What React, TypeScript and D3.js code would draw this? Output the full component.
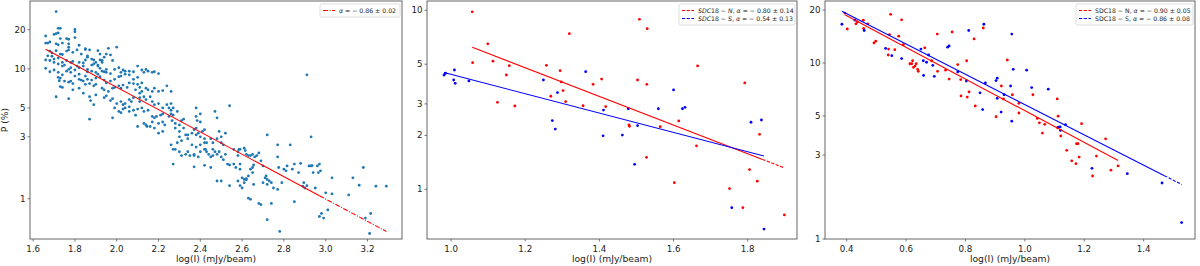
import React, { useEffect } from "react";
import * as d3 from "d3";

type Pt = [number, number];

// log(I) (mJy/beam), P (%) — all sources
const allSources: Pt[] = [
  [1.71, 27.6], [1.72, 20.5], [1.73, 20.5], [1.72, 18.9], [1.80, 20.1], [1.80, 19.3],
  [1.66, 17.9], [1.70, 18.4], [1.71, 18.7],
  [1.73, 17.1], [1.74, 15.8], [1.76, 17.1], [1.77, 16.9], [1.80, 17.4],
  [1.66, 15.8], [1.67, 15.8], [1.68, 16.1], [1.71, 15.6], [1.72, 15.3], [1.77, 15.6], [1.77, 14.7], [1.82, 15.2], [1.85, 14.3],
  [1.68, 13.7], [1.69, 13.3], [1.71, 13.8], [1.73, 13.0], [1.74, 12.9], [1.76, 13.7], [1.77, 14.0], [1.79, 13.4], [1.81, 14.0], [1.83, 13.0], [1.85, 14.1], [1.87, 14.0], [1.86, 12.6],
  [1.67, 12.6], [1.69, 12.5], [1.70, 11.9], [1.72, 12.1], [1.74, 11.2], [1.76, 11.6], [1.78, 11.2], [1.79, 11.4], [1.81, 10.5], [1.82, 11.2], [1.84, 11.1], [1.85, 11.7], [1.86, 12.3], [1.88, 11.9], [1.89, 11.7], [1.90, 11.2],
  [1.66, 11.7], [1.68, 11.6], [1.70, 11.2], [1.72, 10.9], [1.74, 10.5], [1.75, 10.7], [1.77, 9.9], [1.78, 10.2], [1.80, 9.8], [1.82, 10.2], [1.84, 10.5], [1.86, 9.9], [1.88, 10.7], [1.89, 10.9], [1.91, 10.7],
  [1.66, 10.1], [1.68, 9.5], [1.70, 9.8], [1.72, 9.4], [1.73, 8.5], [1.74, 9.0], [1.76, 9.6], [1.78, 9.4], [1.80, 8.8], [1.82, 9.1], [1.83, 8.2], [1.85, 8.8], [1.86, 9.5], [1.88, 9.6], [1.90, 9.4], [1.91, 9.1],
  [1.72, 8.6], [1.725, 8.1], [1.75, 8.05], [1.77, 7.9], [1.78, 8.05], [1.79, 7.7], [1.82, 8.3], [1.84, 8.05], [1.86, 8.3], [1.88, 8.2], [1.90, 8.5],
  [1.73, 7.3], [1.74, 7.2], [1.79, 6.9], [1.82, 7.1], [1.85, 7.6], [1.87, 7.7], [1.89, 7.4], [1.90, 7.6],
  [1.71, 6.1], [1.77, 5.9], [1.84, 6.5], [1.87, 6.1], [1.875, 5.7], [1.89, 5.3], [1.90, 6.3],
  [1.87, 4.1],
  [1.91, 13.8], [1.92, 13.0], [1.92, 11.7], [1.93, 11.2], [1.93, 11.6], [1.94, 12.3], [1.95, 13.0], [1.96, 14.4], [1.97, 12.8], [1.98, 11.6], [2.00, 14.7],
  [1.91, 10.5], [1.92, 10.1], [1.93, 9.6], [1.94, 9.5], [1.95, 9.9], [1.95, 9.4], [1.97, 9.2], [1.99, 9.9], [2.01, 10.2], [2.02, 9.4], [2.03, 9.8], [2.04, 9.6],
  [1.92, 8.7], [1.94, 8.2], [1.95, 7.8], [1.97, 8.05], [1.99, 8.3], [2.01, 8.7], [2.02, 8.8], [2.04, 9.1], [2.06, 9.0], [2.06, 9.6], [2.08, 9.5], [2.08, 8.3], [2.10, 8.6],
  [1.93, 7.1], [1.94, 6.9], [1.96, 6.7], [1.98, 7.1], [1.99, 7.2], [2.01, 7.4], [2.02, 7.1], [2.03, 7.5], [2.05, 7.2], [2.06, 7.8], [2.08, 7.7], [2.09, 6.9], [2.11, 7.2],
  [1.94, 6.0], [1.95, 6.2], [1.97, 5.7], [1.98, 5.9], [2.00, 5.4], [2.02, 5.6], [2.03, 5.3], [2.04, 5.4], [2.06, 5.8], [2.07, 5.6], [2.08, 6.0], [2.11, 6.5], [2.12, 6.7],
  [1.99, 5.0], [2.01, 4.7], [2.03, 4.9], [2.04, 5.0], [2.06, 5.1], [2.08, 4.8], [2.10, 4.9], [2.11, 5.6],
  [1.98, 4.2], [2.02, 4.6], [2.06, 4.7], [2.09, 4.4],
  [2.10, 10.5], [2.12, 9.8], [2.13, 9.4], [2.14, 9.9], [2.15, 9.6], [2.17, 9.4], [2.18, 9.5], [2.20, 9.2],
  [2.10, 7.6], [2.12, 7.8], [2.14, 7.1], [2.15, 6.9], [2.17, 6.7], [2.18, 7.1], [2.20, 6.7], [2.22, 6.8], [2.24, 7.4], [2.26, 6.7],
  [2.11, 6.0], [2.13, 6.1], [2.14, 5.8], [2.16, 6.1], [2.17, 5.6], [2.18, 5.3], [2.20, 5.4], [2.22, 5.0], [2.24, 5.3], [2.26, 5.4], [2.27, 5.0],
  [2.12, 5.0], [2.13, 4.7], [2.15, 4.8], [2.17, 4.3], [2.18, 4.2], [2.19, 4.3], [2.21, 4.4], [2.22, 4.5],
  [2.10, 3.6], [2.13, 3.8], [2.14, 3.7], [2.145, 3.6], [2.16, 3.6], [2.17, 3.9], [2.18, 3.5], [2.20, 3.8], [2.22, 3.9], [2.23, 3.7],
  [2.20, 3.2], [2.22, 3.3],
  [2.25, 4.3], [2.26, 4.5], [2.265, 4.0], [2.27, 4.4], [2.28, 3.8], [2.29, 4.7],
  [2.25, 5.0], [2.26, 4.8],
  [2.28, 3.5], [2.30, 3.7], [2.30, 3.3], [2.32, 3.5], [2.33, 3.1], [2.31, 4.0], [2.32, 4.1],
  [2.26, 2.6], [2.27, 2.4], [2.28, 2.4], [2.29, 2.7], [2.30, 2.3], [2.31, 2.15], [2.33, 2.2], [2.34, 2.3], [2.35, 2.15], [2.37, 2.2],
  [2.27, 1.85], [2.30, 3.0], [2.31, 2.8], [2.34, 3.1], [2.34, 2.9], [2.36, 3.2], [2.37, 3.4], [2.38, 3.1], [2.38, 3.5], [2.39, 3.2], [2.40, 3.0], [2.41, 3.3], [2.42, 3.4],
  [2.38, 5.0], [2.38, 4.3], [2.40, 4.5], [2.385, 4.0], [2.40, 3.9],
  [2.36, 2.6], [2.38, 2.5], [2.40, 2.6], [2.42, 2.7], [2.42, 2.9], [2.43, 2.7], [2.45, 2.9], [2.46, 2.7], [2.48, 2.9], [2.50, 2.7], [2.51, 2.6],
  [2.37, 2.15], [2.39, 2.1], [2.40, 2.3], [2.42, 2.4], [2.425, 2.4], [2.43, 2.3], [2.44, 2.2], [2.45, 2.1], [2.46, 2.4], [2.47, 2.3], [2.48, 2.2],
  [2.37, 1.76], [2.42, 1.81], [2.45, 1.74], [2.46, 2.15], [2.48, 1.37], [2.49, 2.3], [2.50, 2.1], [2.51, 2.0], [2.52, 2.2],
  [2.47, 4.7], [2.48, 4.2], [2.49, 3.3], [2.50, 3.0], [2.52, 3.2], [2.54, 5.2],
  [2.50, 1.37], [2.54, 1.26], [2.53, 1.85], [2.54, 1.82], [2.56, 1.85], [2.57, 1.74],
  [2.56, 2.4], [2.58, 2.3], [2.585, 2.4], [2.59, 2.4], [2.61, 2.45], [2.615, 2.35], [2.62, 2.2], [2.63, 2.15], [2.64, 2.15], [2.65, 2.2],
  [2.58, 2.15], [2.59, 1.85], [2.59, 1.69], [2.60, 1.45], [2.61, 1.41], [2.62, 1.43], [2.63, 1.50], [2.64, 1.69], [2.65, 1.74], [2.655, 1.82],
  [2.58, 1.37], [2.59, 1.26], [2.60, 1.21], [2.61, 1.33], [2.62, 1.40], [2.63, 1.01], [2.64, 0.99], [2.65, 1.59], [2.655, 1.29],
  [2.66, 2.1], [2.67, 2.15], [2.68, 2.25], [2.69, 1.96], [2.70, 1.79],
  [2.72, 3.1], [2.71, 1.45], [2.715, 1.50], [2.72, 1.41], [2.73, 1.37], [2.74, 1.33], [2.75, 1.21], [2.77, 1.18], [2.775, 1.74],
  [2.68, 0.92], [2.69, 0.90], [2.70, 1.33], [2.72, 1.29], [2.74, 0.92], [2.72, 0.69], [2.77, 2.6], [2.77, 2.1],
  [2.78, 0.56], [2.79, 1.33], [2.80, 1.69], [2.81, 1.64], [2.815, 1.79], [2.83, 2.6], [2.84, 1.69], [2.85, 0.95],
  [2.85, 1.85], [2.87, 1.59], [2.88, 1.87], [2.89, 1.25], [2.895, 1.33], [2.90, 1.21], [2.91, 1.26], [2.92, 1.79], [2.93, 1.79], [2.935, 1.80], [2.94, 1.59], [2.95, 1.21], [2.96, 1.79],
  [2.91, 9.0], [2.93, 3.0],
  [2.97, 1.85], [2.965, 1.59], [2.975, 1.64], [2.97, 0.73], [2.98, 0.77], [2.99, 0.71], [3.00, 1.11], [3.01, 0.82], [3.03, 1.45], [3.03, 1.09],
  [3.11, 1.07], [3.13, 1.45], [3.16, 1.27], [3.18, 1.74], [3.19, 0.71], [3.21, 0.54], [3.215, 0.77], [3.24, 1.25], [3.29, 1.25],
];

// SDC18 north / south, middle panel
const midNorth: Pt[] = [
  [1.057, 9.8], [1.099, 6.5], [1.058, 5.1], [1.113, 5.2], [1.157, 4.9], [1.149, 4.35], [1.125, 3.06], [1.172, 2.92],
  [1.257, 4.93], [1.294, 4.6], [1.297, 3.98], [1.302, 3.56], [1.269, 3.31], [1.309, 3.09], [1.319, 7.4], [1.356, 2.93],
  [1.383, 3.86], [1.406, 4.13], [1.417, 2.9], [1.48, 2.29], [1.481, 2.25], [1.503, 4.08], [1.508, 8.9], [1.529, 7.9],
  [1.528, 3.86], [1.527, 1.51], [1.564, 2.24], [1.602, 1.09], [1.614, 2.41], [1.662, 1.75], [1.665, 4.89], [1.751, 1.01],
  [1.787, 0.79], [1.792, 3.93], [1.805, 1.29], [1.826, 1.11], [1.832, 2.03], [1.899, 0.72],
];
const midSouth: Pt[] = [
  [0.981, 4.35], [0.985, 4.45], [1.009, 4.64], [1.007, 4.08], [1.011, 3.91], [1.048, 4.03], [1.249, 4.08], [1.273, 2.42],
  [1.281, 2.17], [1.287, 3.47], [1.363, 4.54], [1.411, 2.77], [1.41, 1.99], [1.462, 2.01], [1.478, 2.82], [1.495, 1.38],
  [1.503, 2.27], [1.559, 2.82], [1.6, 3.59], [1.624, 2.82], [1.631, 2.87], [1.757, 0.79], [1.809, 2.37], [1.837, 2.44],
  [1.844, 0.6],
];

// SDC18 north / south, right panel
const rightNorth: Pt[] = [
  [0.394, 19.2], [0.402, 15.6], [0.431, 16.7], [0.436, 17.1], [0.456, 17.5], [0.457, 15.7], [0.471, 16.7], [0.492, 13.0],
  [0.498, 13.3], [0.54, 11.1], [0.541, 12.0], [0.544, 14.5], [0.548, 18.9], [0.562, 11.9], [0.575, 14.2], [0.585, 17.6],
  [0.591, 12.7], [0.613, 9.9], [0.619, 9.9], [0.622, 10.3], [0.625, 9.45], [0.63, 9.6], [0.634, 9.9], [0.639, 9.2],
  [0.641, 8.97], [0.663, 12.2], [0.686, 10.3], [0.705, 14.6], [0.706, 8.97], [0.733, 9.1], [0.745, 8.1], [0.755, 15.0],
  [0.774, 9.8], [0.784, 8.05], [0.785, 6.5], [0.804, 10.3], [0.806, 6.4], [0.812, 6.85], [0.829, 13.7], [0.833, 5.7],
  [0.86, 15.8], [0.903, 4.95], [0.921, 7.4], [0.928, 6.25], [0.941, 10.4], [0.958, 6.6], [0.98, 5.2], [0.98, 5.9],
  [1.027, 6.6], [1.042, 4.84], [1.049, 4.57], [1.059, 4.0], [1.067, 4.48], [1.109, 6.25], [1.112, 4.99], [1.11, 4.29],
  [1.121, 3.85], [1.141, 3.19], [1.158, 2.78], [1.172, 2.68], [1.174, 3.48], [1.179, 3.48], [1.183, 2.92], [1.191, 4.52],
  [1.228, 2.28], [1.241, 2.96], [1.272, 3.71], [1.29, 2.46], [1.314, 2.6],
];
const rightSouth: Pt[] = [
  [0.384, 16.6], [0.428, 17.5], [0.459, 15.3], [0.531, 12.1], [0.552, 11.0], [0.585, 10.6], [0.65, 12.0], [0.658, 10.3],
  [0.659, 8.5], [0.669, 10.1], [0.676, 11.1], [0.69, 9.7], [0.695, 8.4], [0.74, 12.3], [0.745, 12.5], [0.774, 8.9],
  [0.803, 7.9], [0.811, 15.3], [0.849, 6.77], [0.858, 5.44], [0.862, 16.6], [0.867, 7.7], [0.903, 7.94], [0.907, 8.2],
  [0.907, 6.3], [0.92, 5.26], [0.93, 6.6], [0.956, 14.6], [0.956, 4.67], [0.961, 9.2], [0.952, 7.4], [1.006, 9.1],
  [1.023, 7.25], [1.079, 7.1], [1.113, 4.32], [1.119, 4.33], [1.12, 4.14], [1.137, 4.46], [1.226, 2.52], [1.345, 2.35],
  [1.462, 2.08], [1.528, 1.24],
];

// power-law fits: log10(P) = b + alpha * log(I)
const fitAll = { alpha: -0.86, err: 0.02, b: 2.578 };
const fitMidN = { alpha: -0.8, err: 0.14, b: 1.639 };
const fitMidS = { alpha: -0.54, err: 0.13, b: 1.182 };
const fitRightN = { alpha: -0.9, err: 0.05, b: 1.629 };
const fitRightS = { alpha: -0.86, err: 0.08, b: 1.624 };

const leftXTicks = [1.6, 1.8, 2.0, 2.2, 2.4, 2.6, 2.8, 3.0, 3.2];
const leftYTicks = [1, 3, 5, 10, 20];
const midXTicks = [1.0, 1.2, 1.4, 1.6, 1.8];
const midYTicks = [1, 2, 3, 5, 10];
const rightXTicks = [0.4, 0.6, 0.8, 1.0, 1.2, 1.4];
const rightYTicks = [1, 3, 5, 10, 20];

const FONT = "DejaVu Sans, Verdana, sans-serif";
const TOP = 1;
const BOTTOM = 239;
const fmt2 = d3.format(".2f");

type Part = { t: string; i?: boolean };

function fitLabel(fit: { alpha: number; err: number }, name?: string, italicName = true): Part[] {
  const parts: Part[] = [];
  if (name) {
    parts.push({ t: "SDC", i: italicName }, { t: "18 − " }, { t: name, i: italicName }, { t: ", " });
  }
  parts.push({ t: "α", i: true }, { t: ` = − ${fmt2(Math.abs(fit.alpha))} ± ${fmt2(fit.err)}` });
  return parts;
}

function Panel(props: any) {
  const { left, right, xDomain, yDomain, xTicks, yTicks, series, fits, legend, yLabel } = props;
  const w = right - left;
  const h = BOTTOM - TOP;
  const x = d3.scaleLinear().domain(xDomain).range([0, w]);
  const y = d3.scaleLog().domain(yDomain).range([h, 0]);
  const line = d3.line<Pt>().x((d) => x(d[0])).y((d) => y(d[1]));

  const fitPaths = fits.map((f: any, k: number) => {
    const [x0, x1] = d3.extent(f.pts as Pt[], (d) => d[0]) as [number, number];
    const val = (v: number): Pt => [v, Math.pow(10, f.fit.b + f.fit.alpha * v)];
    const split = f.tailFrom != null && f.tailFrom < x1 ? f.tailFrom : x1;
    return (
      <g key={k}>
        <path d={line([val(x0), val(split)]) || ""} fill="none" stroke={f.color} strokeWidth={1.1} />
        {split < x1 && (
          <path d={line([val(split), val(x1)]) || ""} fill="none" stroke={f.color} strokeWidth={1.1} strokeDasharray={f.dash} />
        )}
      </g>
    );
  });

  return (
    <g transform={`translate(${left},${TOP})`} fontFamily={FONT}>
      <defs>
        <clipPath id={`clip-${left}`}>
          <rect x={0} y={0} width={w} height={h} />
        </clipPath>
      </defs>
      <g clipPath={`url(#clip-${left})`}>
        {series.map((s: any, k: number) => (
          <g key={k} fill={s.color}>
            {(s.pts as Pt[]).map((d, j) => (
              <circle key={j} cx={x(d[0])} cy={y(d[1])} r={1.4} />
            ))}
          </g>
        ))}
        {fitPaths}
      </g>
      <rect x={0} y={0} width={w} height={h} fill="none" stroke="#666" strokeWidth={1} />
      {xTicks.map((t: number) => (
        <g key={t} transform={`translate(${x(t)},${h})`}>
          <line y2={2.5} stroke="#555" strokeWidth={0.8} />
          <text y={12.5} textAnchor="middle" fontSize={8.7} fill="#222">
            {t.toFixed(1)}
          </text>
        </g>
      ))}
      {yTicks.map((t: number) => (
        <g key={t} transform={`translate(0,${y(t)})`}>
          <line x2={-2.5} stroke="#555" strokeWidth={0.8} />
          <text x={-4.5} dy="0.34em" textAnchor="end" fontSize={8.7} fill="#222">
            {t}
          </text>
        </g>
      ))}
      <text x={w / 2} y={h + 23} textAnchor="middle" fontSize={9.2} fill="#222">
        log(I) (mJy/beam)
      </text>
      {yLabel && (
        <text transform={`translate(${-left + 8},${h / 2}) rotate(-90)`} textAnchor="middle" fontSize={9.2} fill="#222">
          {yLabel}
        </text>
      )}
      <g transform={`translate(${w - legend.width - 2},3)`}>
        <rect
          width={legend.width}
          height={5 + legend.items.length * 8}
          rx={1.5}
          fill="white"
          fillOpacity={0.85}
          stroke="#d0d0d0"
          strokeWidth={0.7}
        />
        {legend.items.map((it: any, k: number) => (
          <g key={k} transform={`translate(0,${6.5 + k * 8})`}>
            <line x1={3} x2={15} stroke={it.color} strokeWidth={1} strokeDasharray={it.dash} />
            <text x={19} dy="0.33em" fontSize={6.2} fill="#222">
              {it.parts.map((p: Part, j: number) => (
                <tspan key={j} fontStyle={p.i ? "italic" : "normal"}>
                  {p.t}
                </tspan>
              ))}
            </text>
          </g>
        ))}
      </g>
    </g>
  );
}

export default function App() {
  useEffect(() => {
    document.body.style.margin = "0";
  }, []);
  const dashDot = "5,1.5,1,1.5";
  const dashed = "3.2,1.5";
  return (
    <svg width={1200} height={266} style={{ display: "block", background: "white" }}>
      <Panel
        left={30}
        right={402}
        xDomain={[1.585, 3.365]}
        yDomain={[0.49, 33.3]}
        xTicks={leftXTicks}
        yTicks={leftYTicks}
        yLabel="P (%)"
        series={[{ pts: allSources, color: "#1f77b4" }]}
        fits={[{ pts: allSources, fit: fitAll, color: "red", dash: dashDot, tailFrom: 2.97 }]}
        legend={{ width: 80, items: [{ color: "red", dash: dashDot, parts: fitLabel(fitAll) }] }}
      />
      <Panel
        left={427}
        right={797}
        xDomain={[0.935, 1.933]}
        yDomain={[0.528, 11.27]}
        xTicks={midXTicks}
        yTicks={midYTicks}
        series={[
          { pts: midNorth, color: "red" },
          { pts: midSouth, color: "blue" },
        ]}
        fits={[
          { pts: midNorth, fit: fitMidN, color: "red", dash: dashed, tailFrom: 1.84 },
          { pts: midSouth, fit: fitMidS, color: "blue", dash: dashed },
        ]}
        legend={{
          width: 116,
          items: [
            { color: "red", dash: dashed, parts: fitLabel(fitMidN, "N") },
            { color: "blue", dash: dashed, parts: fitLabel(fitMidS, "S") },
          ],
        }}
      />
      <Panel
        left={825}
        right={1195}
        xDomain={[0.327, 1.573]}
        yDomain={[1, 22.5]}
        xTicks={rightXTicks}
        yTicks={rightYTicks}
        series={[
          { pts: rightNorth, color: "red" },
          { pts: rightSouth, color: "blue" },
        ]}
        fits={[
          { pts: rightNorth, fit: fitRightN, color: "red", dash: dashed },
          { pts: rightSouth, fit: fitRightS, color: "blue", dash: dashed, tailFrom: 1.47 },
        ]}
        legend={{
          width: 117,
          items: [
            { color: "red", dash: dashed, parts: fitLabel(fitRightN, "N", false) },
            { color: "blue", dash: dashed, parts: fitLabel(fitRightS, "S", false) },
          ],
        }}
      />
    </svg>
  );
}
